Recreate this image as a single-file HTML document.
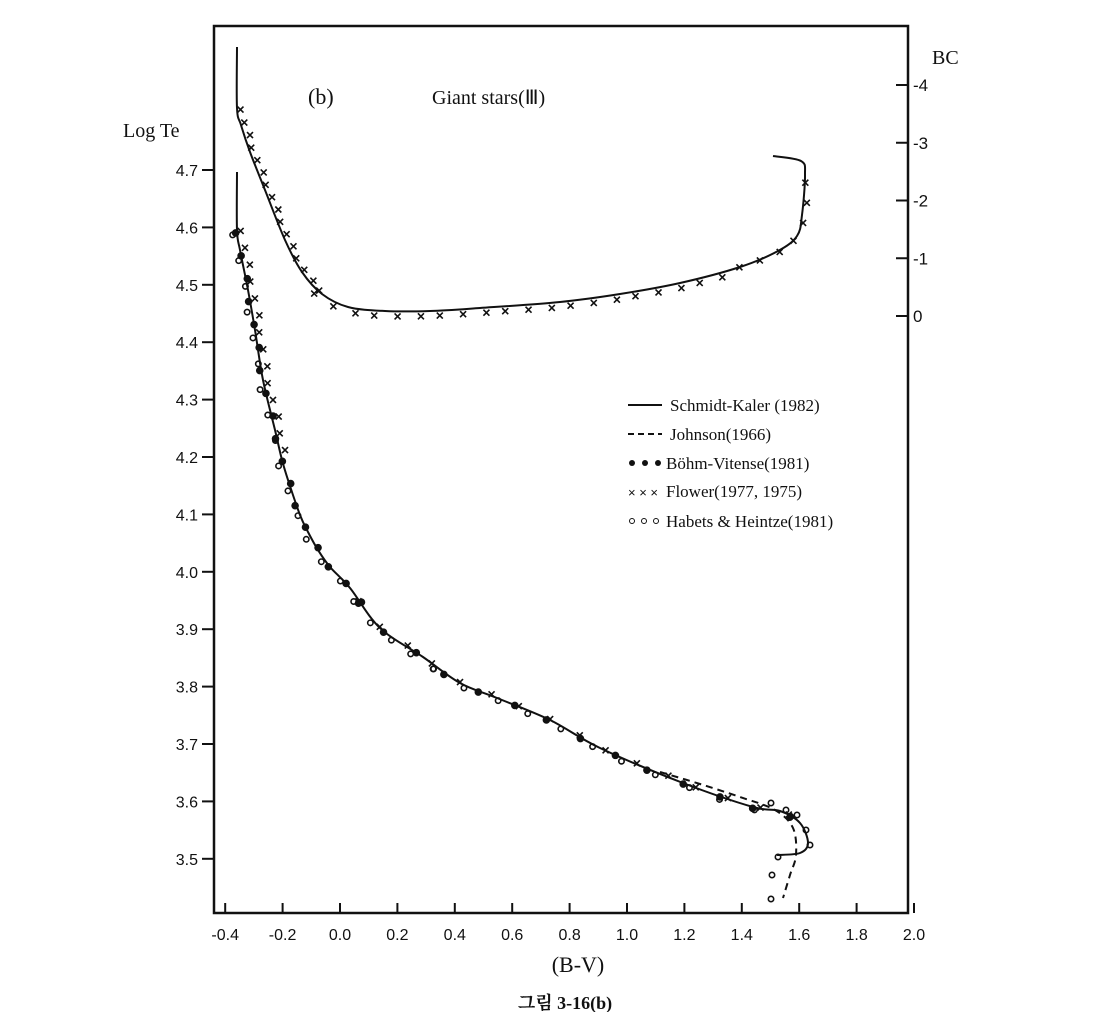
<!DOCTYPE html>
<html><head><meta charset="utf-8"><style>
body{margin:0;background:#fff;}
svg{display:block}
text{font-family:"Liberation Sans",sans-serif;fill:#111}
.s{font-family:"Liberation Serif",serif}
</style></head><body>
<svg id="c" width="1112" height="1012" viewBox="0 0 1112 1012">
<rect x="214" y="26" width="694" height="887" fill="none" stroke="#111" stroke-width="2.5"/>
<g stroke="#111" stroke-width="2" id="ticks"></g>
<g font-size="16" text-anchor="end" id="ylab"></g>
<g font-size="16" text-anchor="middle" id="xlab"></g>
<g font-size="17" id="bclab"></g>
<text x="123" y="137" font-size="20" class="s">Log Te</text>
<text x="932" y="64" font-size="20" class="s">BC</text>
<text x="308" y="104" font-size="22" class="s">(b)</text>
<text x="432" y="104" font-size="20" class="s">Giant  stars(Ⅲ)</text>
<text x="578" y="972" font-size="22" class="s" text-anchor="middle">(B-V)</text>
<text x="565" y="1009" font-size="18" font-weight="bold" text-anchor="middle" style='font-family:"Liberation Serif","Noto Serif CJK SC",serif'>그림 3-16(b)</text>
<g fill="none" stroke="#111" stroke-width="2" id="curves"></g>
<g id="m" stroke="#111" fill="none" stroke-width="1.6"></g>
<g font-size="17">
<line x1="628" y1="405" x2="662" y2="405" stroke="#111" stroke-width="2"/>
<text x="670" y="411" class="s">Schmidt-Kaler (1982)</text>
<line x1="628" y1="434" x2="662" y2="434" stroke="#111" stroke-width="2" stroke-dasharray="6,4"/>
<text x="670" y="440" class="s">Johnson(1966)</text>
<circle cx="632" cy="463" r="3" fill="#111"/><circle cx="645" cy="463" r="3" fill="#111"/><circle cx="658" cy="463" r="3" fill="#111"/>
<text x="666" y="469" class="s">Böhm-Vitense(1981)</text>
<text x="628" y="497" font-size="13">× × ×</text>
<text x="666" y="497" class="s">Flower(1977, 1975)</text>
<circle cx="632" cy="521" r="2.5" fill="none" stroke="#111"/><circle cx="644" cy="521" r="2.5" fill="none" stroke="#111"/><circle cx="656" cy="521" r="2.5" fill="none" stroke="#111"/>
<text x="666" y="527" class="s">Habets &amp; Heintze(1981)</text>
</g>
</svg>
<script>
var ns="http://www.w3.org/2000/svg",t=document.getElementById('ticks'),m=document.getElementById('m'),cv=document.getElementById('curves');
function el(p,n,a,txt){var e=document.createElementNS(ns,n);for(var k in a)e.setAttribute(k,a[k]);if(txt)e.textContent=txt;p.appendChild(e);return e;}
for(var i=0;i<=12;i++){var v=-0.4+i*0.2,x=340+287*v;el(t,'line',{x1:x,y1:913,x2:x,y2:903});
el(document.getElementById('xlab'),'text',{x:x,y:940},(v<-0.01?'-':'')+Math.abs(v).toFixed(1));}
for(var L=4.7;L>3.45;L-=0.1){var y=170+(4.7-L)*574;el(t,'line',{x1:202,y1:y,x2:214,y2:y});
el(document.getElementById('ylab'),'text',{x:198,y:y+6},L.toFixed(1));}
for(var b=-4;b<=0;b++){var y=85+(b+4)*57.75;el(t,'line',{x1:896,y1:y,x2:908,y2:y});
el(document.getElementById('bclab'),'text',{x:913,y:y+6},b==0?'0':'-'+(-b));}
function cr(P){var d='M'+P[0][0]+' '+P[0][1];for(var i=0;i<P.length-1;i++){var p0=P[i-1]||P[i],p1=P[i],p2=P[i+1],p3=P[i+2]||p2;
d+='C'+(p1[0]+(p2[0]-p0[0])/6)+' '+(p1[1]+(p2[1]-p0[1])/6)+' '+(p2[0]-(p3[0]-p1[0])/6)+' '+(p2[1]-(p3[1]-p1[1])/6)+' '+p2[0]+' '+p2[1];}return d;}
var up=[[237,47],[237,108],[241,125],[250,152],[265,190],[285,240],[302,272],[322,294],[348,307],[385,311],[430,311],[480,308],[560,302],[620,294],[680,283],[740,267],[778,251],[797,236],[802,215],[805,175],[801,161],[773,156]];
var lo=[[237,172],[237,230],[240,250],[248,290],[255,330],[263,380],[275,430],[282,460],[289,483],[300,515],[308,532],[318,550],[330,567],[350,588],[380,628],[423,657],[460,683],[497,698],[550,720],[600,748],[683,783],[753,807],[780,811],[800,823],[808,843],[800,853],[777,855]];
var jo=[[660,772],[700,784],[740,797],[775,810],[793,828],[796,855],[790,875],[783,898]];
var pu=el(cv,'path',{d:cr(up)}),pl=el(cv,'path',{d:cr(lo)});el(cv,'path',{d:cr(jo),'stroke-dasharray':'7,5'});
function X(x,y){el(m,'path',{d:'M'+(x-3)+' '+(y-3)+'L'+(x+3)+' '+(y+3)+'M'+(x+3)+' '+(y-3)+'L'+(x-3)+' '+(y+3)});}
function D(x,y){el(m,'circle',{cx:x,cy:y,r:3,fill:'#111'});}
function O(x,y){el(m,'circle',{cx:x,cy:y,r:2.7});}
function along(p,from,to,n,f,dx,dy){var L=p.getTotalLength();for(var i=0;i<n;i++){var q=p.getPointAtLength(L*(from+(to-from)*i/(n-1)));f(q.x+dx+((i%3)-1)*1.5,q.y+dy);}}
// upper flower x's (slightly below/right)
along(pu,0.07,0.30,16,X,5,2);
along(pu,0.30,0.78,20,X,0,5);
along(pu,0.80,0.94,7,X,2,0);
// lower
along(pl,0.06,0.28,14,X,5,-2);
along(pl,0.06,0.45,18,D,0,0);
along(pl,0.06,0.55,20,O,-3,2);
along(pl,0.45,0.93,16,X,0,-1);
along(pl,0.45,0.93,14,D,0,1);
along(pl,0.55,0.93,12,O,-2,2);
[[771,803],[786,810],[797,815],[806,830],[810,845],[778,857],[772,875],[771,899]].forEach(function(p){O(p[0],p[1]);});
</script>
</body></html>
